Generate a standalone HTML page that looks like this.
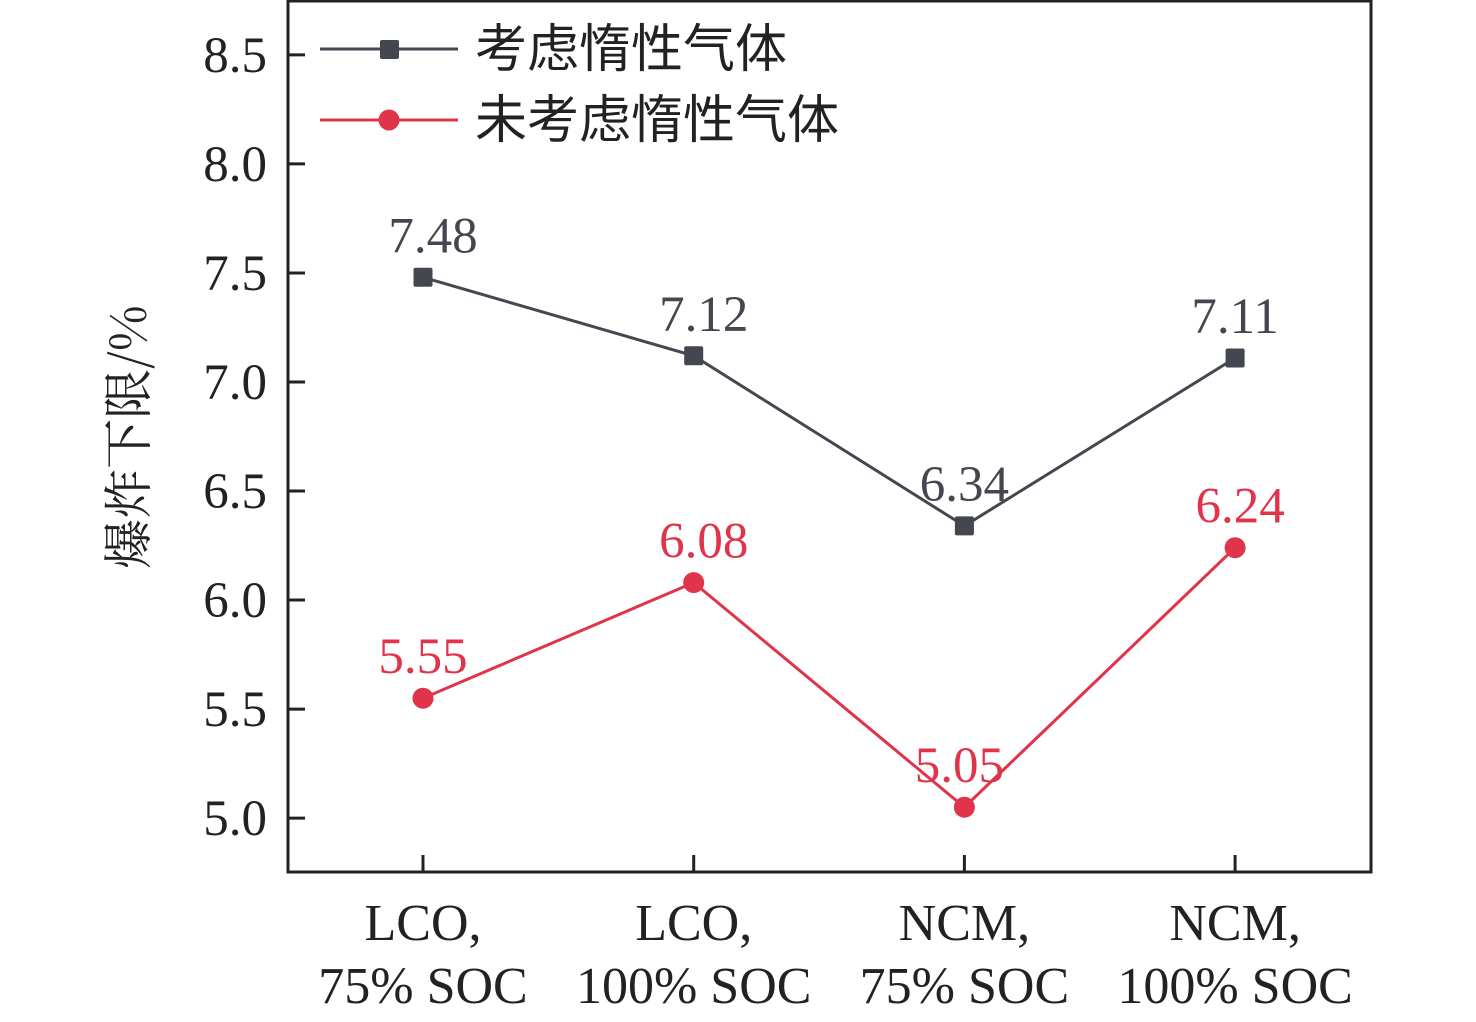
<!DOCTYPE html>
<html><head><meta charset="utf-8"><style>
html,body{margin:0;padding:0;background:#fff;}
svg text{font-family:"Liberation Serif","Noto Serif CJK SC",serif;}
</style></head><body>
<svg id="chart" width="1476" height="1017" xmlns="http://www.w3.org/2000/svg">
<g id="axes"></g><g id="marks"></g>
<g>
<g>
<line x1="320" y1="49" x2="458" y2="49" stroke="#44474f" stroke-width="3"/>
<rect x="380" y="40" width="19" height="19" rx="2" fill="#44474f"/>
<text x="475" y="67" font-size="52" fill="#222" style="font-family:'Noto Sans CJK SC',sans-serif">考虑惰性气体</text></g>
<g>
<line x1="320" y1="120" x2="458" y2="120" stroke="#e0344a" stroke-width="3"/>
<circle cx="389" cy="120" r="10.5" fill="#e0344a"/>
<text x="475" y="138" font-size="52" fill="#222" style="font-family:'Noto Sans CJK SC',sans-serif">未考虑惰性气体</text></g>
</g>
</svg>
<script>
const categories=[["LCO,","75% SOC"],["LCO,","100% SOC"],["NCM,","75% SOC"],["NCM,","100% SOC"]];
const inertValues=[7.48,7.12,6.34,7.11];
const noInertValues=[5.55,6.08,5.05,6.24];
const yTicks=[5.0,5.5,6.0,6.5,7.0,7.5,8.0,8.5];
const NS="http://www.w3.org/2000/svg";
const L=288,R=1371,T=1,B=872;
const yMin=4.753,yMax=8.747;
function y(v){return B-(v-yMin)/(yMax-yMin)*(B-T);}
function x(i){return 423+i*270.7;}
function mk(p,tag,at){const e=document.createElementNS(NS,tag);for(const k in at)e.setAttribute(k,at[k]);p.appendChild(e);return e;}
const ax=document.getElementById('axes'),mg=document.getElementById('marks');
const frame=mk(ax,'rect',{x:L,y:T,width:R-L,height:B-T,fill:'none',stroke:'#222','stroke-width':3});


yTicks.forEach(v=>{
 const t=mk(ax,'line',{x1:L,x2:L+17,y1:y(v),y2:y(v),stroke:'#222','stroke-width':3});
 
 
 const l=mk(ax,'text',{x:267,y:y(v)+17,'font-size':51,'text-anchor':'end',fill:'#222'});
 
 
 l.textContent=v.toFixed(1);
});
categories.forEach((c,i)=>{
 const t=mk(ax,'line',{x1:x(i),x2:x(i),y1:B,y2:B-17,stroke:'#222','stroke-width':3});
 
 
 c.forEach((s,j)=>{
  const l=mk(ax,'text',{x:x(i),y:940+j*63,'font-size':52,'text-anchor':'middle',fill:'#222'});
  
  
  l.textContent=s;
 });
});
const yt=mk(ax,'text',{x:0,y:0,'font-size':50,'text-anchor':'middle',fill:'#222',transform:'translate(146,437) rotate(-90)'});


yt.style.fontFamily="'Noto Serif CJK SC','Liberation Serif',serif";
yt.textContent='爆炸下限/%';
function series(vals,color,shape,name,labelOff){
 const pts=vals.map((v,i)=>x(i)+','+y(v)).join(' ');
 const pl=mk(mg,'polyline',{points:pts,fill:'none',stroke:color,'stroke-width':3});
 
 
 vals.forEach((v,i)=>{
  let m;
  if(shape==='sq') m=mk(mg,'rect',{x:x(i)-9.5,y:y(v)-9.5,width:19,height:19,rx:2,fill:color});
  else m=mk(mg,'circle',{cx:x(i),cy:y(v),r:10.5,fill:color});
  
  
  const lb=mk(mg,'text',{x:x(i)+(labelOff[i]||0),y:y(v)-25,'font-size':51,'text-anchor':'middle',fill:color});
  
  
  lb.textContent=v.toFixed(2);
 });
}
series(inertValues,'#44474f','sq','inert',[10,10,0,0]);
series(noInertValues,'#e0344a','circle','no-inert',[0,10,-5,5]);
</script>
</body></html>
